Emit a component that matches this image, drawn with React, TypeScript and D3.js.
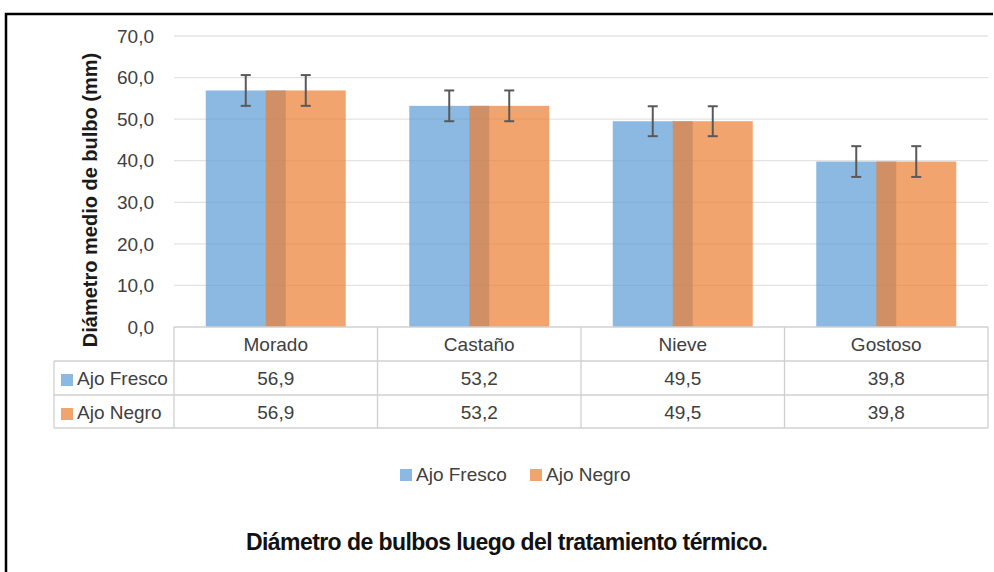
import React, { useEffect, useRef } from 'react';
import * as d3 from 'd3';

const categories = ['Morado', 'Castaño', 'Nieve', 'Gostoso'];
const seriesNames = ['Ajo Fresco', 'Ajo Negro'];
const ajoFresco = [56.9, 53.2, 49.5, 39.8];
const ajoNegro = [56.9, 53.2, 49.5, 39.8];
const errFresco = [3.7, 3.7, 3.6, 3.7];
const errNegro = [3.7, 3.7, 3.6, 3.7];
const yTicks = [0, 10, 20, 30, 40, 50, 60, 70];

const colors = ['#5B9BD5', '#ED7D31'];
const fmt = (v: number) => v.toFixed(1).replace('.', ',');

export default function App() {
  const chartRef = useRef<SVGSVGElement>(null);

  useEffect(() => {
    const width = 994;
    const height = 572;
    const font = "'Liberation Sans', Arial, sans-serif";
    const textColor = '#404040';
    const lineColor = '#D0D0D0';

    const svg = d3.select(chartRef.current);
    svg.selectAll('*').remove();
    svg.attr('width', width).attr('height', height);

    svg.append('rect').attr('width', width).attr('height', height).attr('fill', '#fff');

    // outer frame (top + left only visible)
    svg.append('path')
      .attr('d', 'M6,572 L6,14 L993,14')
      .attr('fill', 'none')
      .attr('stroke', '#000')
      .attr('stroke-width', 2.5);

    const plotLeft = 174;
    const plotRight = 988;
    const x = d3.scaleBand<string>()
      .domain(categories)
      .range([plotLeft, plotRight])
      .paddingInner(0)
      .paddingOuter(0);

    const y = d3.scaleLinear().domain([0, 70]).range([327, 36]);

    // gridlines
    svg.append('g')
      .selectAll('line')
      .data(yTicks.filter(t => t > 0))
      .enter()
      .append('line')
      .attr('x1', plotLeft)
      .attr('x2', plotRight)
      .attr('y1', d => y(d))
      .attr('y2', d => y(d))
      .attr('stroke', '#E3E3E3')
      .attr('stroke-width', 1.3);

    // y tick labels
    svg.append('g')
      .selectAll('text')
      .data(yTicks)
      .enter()
      .append('text')
      .attr('x', 154)
      .attr('y', d => y(d))
      .attr('dy', '0.35em')
      .attr('text-anchor', 'end')
      .attr('font-family', font)
      .attr('font-size', 19)
      .attr('fill', textColor)
      .text(d => fmt(d));

    // y axis title
    svg.append('text')
      .attr('transform', `translate(97, 200) rotate(-90)`)
      .attr('text-anchor', 'middle')
      .attr('font-family', font)
      .attr('font-weight', 'bold')
      .attr('font-size', 20)
      .attr('fill', '#1a1a1a')
      .text('Diámetro medio de bulbo (mm)');

    // bars: width 80 of 203.5 band, overlap 25%
    const bw = x.bandwidth() * (80 / 203.5);
    const overlap = bw * 0.25;
    const groupW = bw * 2 - overlap;
    const series = [ajoFresco, ajoNegro];
    const errs = [errFresco, errNegro];

    series.forEach((vals, si) => {
      const g = svg.append('g');
      g.selectAll('rect')
        .data(categories)
        .enter()
        .append('rect')
        .attr('x', c => (x(c) as number) + (x.bandwidth() - groupW) / 2 + si * (bw - overlap))
        .attr('y', (_, i) => y(vals[i]))
        .attr('width', bw)
        .attr('height', (_, i) => y(0) - y(vals[i]))
        .attr('fill', colors[si])
        .attr('fill-opacity', 0.7);
    });

    series.forEach((vals, si) => {
      const g = svg.append('g').attr('stroke', '#595959').attr('stroke-width', 2);
      categories.forEach((c, i) => {
        const cx = (x(c) as number) + (x.bandwidth() - groupW) / 2 + si * (bw - overlap) + bw / 2;
        const top = y(vals[i] + errs[si][i]);
        const bot = y(vals[i] - errs[si][i]);
        g.append('line').attr('x1', cx).attr('x2', cx).attr('y1', top).attr('y2', bot);
        g.append('line').attr('x1', cx - 5).attr('x2', cx + 5).attr('y1', top).attr('y2', top);
        g.append('line').attr('x1', cx - 5).attr('x2', cx + 5).attr('y1', bot).attr('y2', bot);
      });
    });

    // data table
    const rowY = [327, 361, 395, 428];
    const tableLeft = 54;
    const tg = svg.append('g').attr('stroke', lineColor).attr('stroke-width', 1.3);
    tg.append('line').attr('x1', plotLeft).attr('x2', plotRight).attr('y1', rowY[0]).attr('y2', rowY[0]);
    rowY.slice(1).forEach(ry => {
      tg.append('line').attr('x1', tableLeft).attr('x2', plotRight).attr('y1', ry).attr('y2', ry);
    });
    tg.append('line').attr('x1', tableLeft).attr('x2', tableLeft).attr('y1', rowY[1]).attr('y2', rowY[3]);
    [...categories.map(c => x(c) as number), plotRight].forEach(vx => {
      tg.append('line').attr('x1', vx).attr('x2', vx).attr('y1', rowY[0]).attr('y2', rowY[3]);
    });

    const cellText = (tx: number, ty: number, s: string, anchor = 'middle') =>
      svg.append('text')
        .attr('x', tx)
        .attr('y', ty)
        .attr('text-anchor', anchor)
        .attr('font-family', font)
        .attr('font-size', 19)
        .attr('fill', textColor)
        .text(s);

    categories.forEach(c => {
      cellText((x(c) as number) + x.bandwidth() / 2, 351, c);
    });
    series.forEach((vals, si) => {
      const baseY = 385 + si * 34;
      svg.append('rect')
        .attr('x', 61)
        .attr('y', baseY - 11)
        .attr('width', 12)
        .attr('height', 12)
        .attr('fill', colors[si])
        .attr('fill-opacity', 0.7);
      cellText(77, baseY, seriesNames[si], 'start');
      categories.forEach((c, i) => {
        cellText((x(c) as number) + x.bandwidth() / 2, baseY, fmt(vals[i]));
      });
    });

    // legend
    const legendX = [400, 530];
    seriesNames.forEach((name, si) => {
      svg.append('rect')
        .attr('x', legendX[si])
        .attr('y', 469)
        .attr('width', 12)
        .attr('height', 12)
        .attr('fill', colors[si])
        .attr('fill-opacity', 0.7);
      cellText(legendX[si] + 16, 481, name, 'start');
    });

    // chart title
    svg.append('text')
      .attr('x', 246)
      .attr('y', 550)
      .attr('font-family', "'Liberation Sans Narrow', 'Liberation Sans', Arial, sans-serif")
      .attr('font-weight', 'bold')
      .attr('font-size', 23)
      .attr('fill', '#111')
      .attr('textLength', 522)
      .attr('lengthAdjust', 'spacing')
      .text('Diámetro de bulbos luego del tratamiento térmico.');
  }, []);

  return (
    <div style={{ position: 'fixed', left: 0, top: 0 }}>
      <svg ref={chartRef} style={{ display: 'block' }} />
    </div>
  );
}
